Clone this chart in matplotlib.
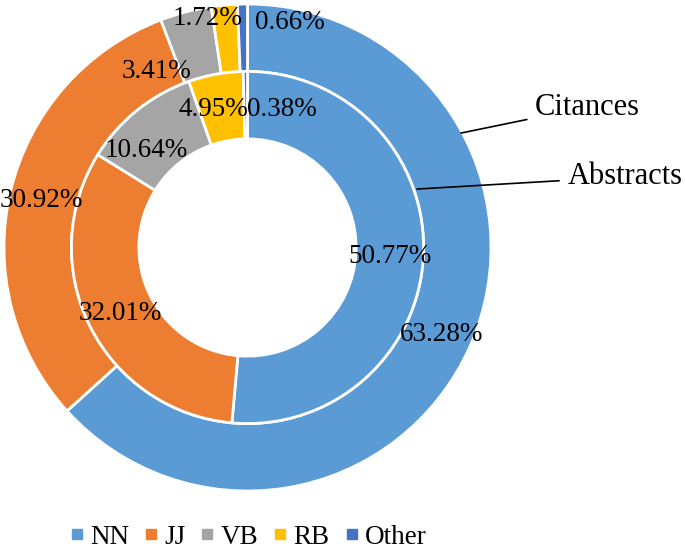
import matplotlib.pyplot as plt
from matplotlib.lines import Line2D

plt.rcParams['font.family'] = ['Liberation Serif', 'DejaVu Serif']

categories = ['NN', 'JJ', 'VB', 'RB', 'Other']
colors = ['#5B9BD5', '#ED7D31', '#A5A5A5', '#FFC000', '#4472C4']

citances = [63.28, 30.92, 3.41, 1.72, 0.66]
abstracts = [50.77, 32.01, 10.64, 4.95, 0.38]

# hand placed label spots (axes data units, radius 1 = outer edge)
citance_label_pos = [(0.795, -0.359), (-0.846, 0.195), (-0.372, 0.721),
                     (-0.164, 0.942), (0.172, 0.922)]
abstract_label_pos = [(0.585, -0.039), (-0.524, -0.269), (-0.415, 0.400),
                      (-0.140, 0.565), (0.140, 0.565)]

fs = 19.5
fs_names = 22

fig = plt.figure(figsize=(6.85, 5.51), dpi=100)
ax = fig.add_axes([4 / 685, 60 / 551, 487 / 685, 487 / 551])

ax.pie(citances, radius=1.0, colors=colors, startangle=90, counterclock=False,
       wedgeprops=dict(width=0.277, edgecolor='white', linewidth=2))
ax.pie(abstracts, radius=0.723, colors=colors, startangle=90, counterclock=False,
       wedgeprops=dict(width=0.277, edgecolor='white', linewidth=2))

for v, (x, y) in zip(citances, citance_label_pos):
    ax.text(x, y, f'{v:.2f}%', ha='center', va='center', fontsize=fs)
for v, (x, y) in zip(abstracts, abstract_label_pos):
    ax.text(x, y, f'{v:.2f}%', ha='center', va='center', fontsize=fs)

ax.annotate('Citances', xy=(0.877, 0.470), xytext=(1.181, 0.577),
            fontsize=fs_names, va='center', ha='left', annotation_clip=False,
            arrowprops=dict(arrowstyle='-', color='black', lw=1.2,
                            shrinkA=4, shrinkB=0))
ax.annotate('Abstracts', xy=(0.696, 0.240), xytext=(1.314, 0.290),
            fontsize=fs_names, va='center', ha='left', annotation_clip=False,
            arrowprops=dict(arrowstyle='-', color='black', lw=1.2,
                            shrinkA=4, shrinkB=0))

ax.set_xlim(-1, 1)
ax.set_ylim(-1, 1)
ax.set_aspect('auto')
ax.axis('off')

handles = [Line2D([], [], marker='s', linestyle='', color=c, markersize=6.5)
           for c in colors]
fig.legend(handles, categories, loc='center', bbox_to_anchor=(249 / 685, 1 - 537 / 551),
           ncol=5, frameon=False, fontsize=fs, handletextpad=0.3,
           columnspacing=0.6, handlelength=0.4)

fig.savefig('out.png', dpi=100)
